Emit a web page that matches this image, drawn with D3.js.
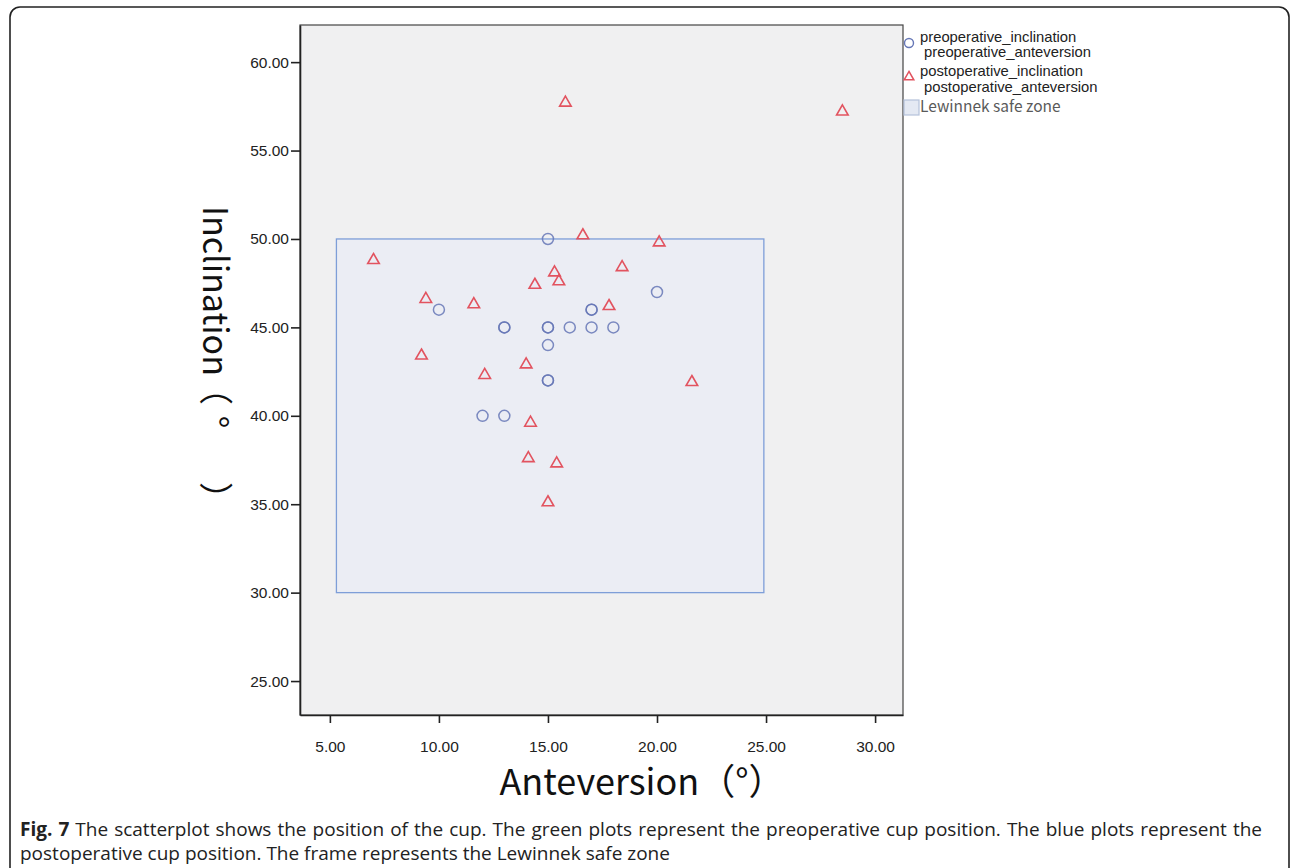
<!DOCTYPE html>
<html>
<head>
<meta charset="utf-8">
<script src="https://cdn.jsdelivr.net/npm/d3@7"></script>
<style>
  html, body { margin: 0; padding: 0; background: #ffffff; }
  svg { display: block; }
</style>
</head>
<body>
<svg id="chart" width="1292" height="868"></svg>
<script>
// ---- data ----
const preAnteversion  = [10, 13, 13, 15, 15, 15, 15, 15, 15, 12, 13, 16, 17, 17, 17, 18, 20];
const preInclination  = [46, 45, 45, 50, 45, 45, 44, 42, 42, 40, 40, 45, 46, 46, 45, 45, 47];

const postAnteversion = [7.0, 9.4, 9.2, 11.6, 12.1, 14.0, 14.2, 14.1, 14.4, 15.3, 15.5, 15.4, 15.0, 15.8, 16.6, 17.8, 18.4, 20.1, 21.6, 28.5];
const postInclination = [48.8, 46.6, 43.4, 46.3, 42.3, 42.9, 39.6, 37.6, 47.4, 48.1, 47.6, 37.3, 35.1, 57.7, 50.2, 46.2, 48.4, 49.8, 41.9, 57.2];

const safeZoneAnteversion = [5.3, 24.9];
const safeZoneInclination = [30, 50];

const xTicks = [5, 10, 15, 20, 25, 30];
const yTicks = [25, 30, 35, 40, 45, 50, 55, 60];

const legendLabels = [
  ["preoperative_inclination", "preoperative_anteversion"],
  ["postoperative_inclination", "postoperative_anteversion"],
  ["Lewinnek safe zone"]
];

const xTitle = "Anteversion（°）";
const yTitleWord = "Inclination";
const yTitleUnit = ["（", "°", "）"];
const captionBold = "Fig. 7";
const captionLine1 = " The scatterplot shows the position of the cup. The green plots represent the preoperative cup position. The blue plots represent the";
const captionLine2 = "postoperative cup position. The frame represents the Lewinnek safe zone";

// ---- layout ----
const svg = d3.select("#chart");
const plot = { left: 300, right: 903, top: 25, bottom: 715 };

const x = d3.scaleLinear().domain([3.63, 31.28]).range([plot.left, plot.right]);
const y = d3.scaleLinear().domain([23.08, 62.1]).range([plot.bottom, plot.top]);

const circleColor = "#6677b6";
const triColor = "#e2535f";
const cjk = "'Noto Sans CJK SC', 'Noto Sans', sans-serif";
const arial = "'Liberation Sans', Arial, sans-serif";

// outer frame
svg.append("rect")
  .attr("x", 10).attr("y", 7)
  .attr("width", 1279).attr("height", 900)
  .attr("rx", 10).attr("ry", 10)
  .attr("fill", "none").attr("stroke", "#222").attr("stroke-width", 1.6);

// plot background
svg.append("rect")
  .attr("x", plot.left).attr("y", plot.top)
  .attr("width", plot.right - plot.left).attr("height", plot.bottom - plot.top)
  .attr("fill", "#f0f0f1").attr("stroke", "#444").attr("stroke-width", 1.2);

// safe zone
svg.append("rect")
  .attr("x", x(safeZoneAnteversion[0]))
  .attr("y", y(safeZoneInclination[1]))
  .attr("width", x(safeZoneAnteversion[1]) - x(safeZoneAnteversion[0]))
  .attr("height", y(safeZoneInclination[0]) - y(safeZoneInclination[1]))
  .attr("fill", "#e8ebf5").attr("fill-opacity", 0.55)
  .attr("stroke", "#7e9ed8").attr("stroke-width", 1.3);

// axes
const xAxis = d3.axisBottom(x).tickValues(xTicks).tickFormat(d3.format(".2f")).tickSize(8).tickSizeOuter(0);
const yAxis = d3.axisLeft(y).tickValues(yTicks).tickFormat(d3.format(".2f")).tickSize(9).tickSizeOuter(0);

const gx = svg.append("g").attr("transform", `translate(0,${plot.bottom})`).call(xAxis);
const gy = svg.append("g").attr("transform", `translate(${plot.left},0)`).call(yAxis);

[gx, gy].forEach(g => {
  g.select(".domain").attr("stroke", "#222").attr("stroke-width", 1.6);
  g.selectAll(".tick line").attr("stroke", "#222").attr("stroke-width", 1.6);
  g.selectAll(".tick text")
    .attr("fill", "#222")
    .style("font-family", arial)
    .style("font-size", "15.5px");
});
gx.selectAll(".tick text").attr("dy", "0").attr("y", 37);
gy.selectAll(".tick text").attr("x", -11);

// points
const pre = preAnteversion.map((a, i) => ({ a, inc: preInclination[i] }));
const post = postAnteversion.map((a, i) => ({ a, inc: postInclination[i] }));

svg.append("g").selectAll("circle").data(pre).join("circle")
  .attr("cx", d => x(d.a)).attr("cy", d => y(d.inc))
  .attr("r", 5.5)
  .attr("fill", "none").attr("stroke", circleColor).attr("stroke-width", 1.5).attr("stroke-opacity", 0.85);

const tri = d3.symbol(d3.symbolTriangle, 58);
svg.append("g").selectAll("path").data(post).join("path")
  .attr("transform", d => `translate(${x(d.a)},${y(d.inc)})`)
  .attr("d", tri)
  .attr("fill", "none").attr("stroke", triColor).attr("stroke-width", 1.6);

// legend
const lg = svg.append("g");
lg.append("circle").attr("cx", 909).attr("cy", 43).attr("r", 4.5)
  .attr("fill", "none").attr("stroke", circleColor).attr("stroke-width", 1.4);
lg.append("text").attr("x", 920).attr("y", 42).text(legendLabels[0][0]);
lg.append("text").attr("x", 924).attr("y", 57).text(legendLabels[0][1]);

lg.append("path").attr("transform", "translate(909,77)").attr("d", d3.symbol(d3.symbolTriangle, 40))
  .attr("fill", "none").attr("stroke", triColor).attr("stroke-width", 1.5);
lg.append("text").attr("x", 920).attr("y", 76).text(legendLabels[1][0]);
lg.append("text").attr("x", 924).attr("y", 92).text(legendLabels[1][1]);
lg.selectAll("text")
  .style("font-family", arial).style("font-size", "14.8px").attr("fill", "#222");

lg.append("rect").attr("x", 904).attr("y", 100).attr("width", 15).attr("height", 15)
  .attr("fill", "#e4e9f3").attr("stroke", "#b4c1da").attr("stroke-width", 1.2);
lg.append("text").attr("x", 920).attr("y", 112).text(legendLabels[2][0])
  .style("font-family", cjk).style("font-size", "15.5px").attr("fill", "#5a5a5a");

// axis titles
svg.append("text")
  .attr("x", 642).attr("y", 795)
  .attr("text-anchor", "middle")
  .style("font-family", cjk)
  .style("font-size", "36px").attr("fill", "#111")
  .text(xTitle);

const yt = svg.append("text")
  .attr("transform", "translate(203,0) rotate(90)")
  .style("font-family", cjk)
  .style("font-size", "34px").attr("fill", "#111");
yt.append("tspan").attr("x", 206).text(yTitleWord);
yt.append("tspan").attr("x", 388).attr("text-anchor", "middle").text(yTitleUnit[0]);
yt.append("tspan").attr("x", 422).attr("text-anchor", "middle").text(yTitleUnit[1]);
yt.append("tspan").attr("x", 499).attr("text-anchor", "middle").text(yTitleUnit[2]);

// caption (first line justified to the text column width)
const capFont = "'Open Sans', 'Noto Sans', sans-serif";
const capSize = "19px";
const cap = svg.append("text").attr("x", 20).attr("y", 836)
  .style("font-family", capFont).style("font-size", capSize).attr("fill", "#222");
cap.append("tspan").style("font-weight", "bold").text(captionBold);
cap.append("tspan").text(captionLine1);
const natural = cap.node().getComputedTextLength();
const spaces = (captionBold + captionLine1).split(" ").length - 1;
const target = 1262 - 20;
if (natural < target) cap.style("word-spacing", ((target - natural) / spaces) + "px");
else cap.attr("textLength", target).attr("lengthAdjust", "spacingAndGlyphs");
svg.append("text").attr("x", 20).attr("y", 860)
  .style("font-family", capFont).style("font-size", capSize).attr("fill", "#222")
  .text(captionLine2);
</script>
</body>
</html>
